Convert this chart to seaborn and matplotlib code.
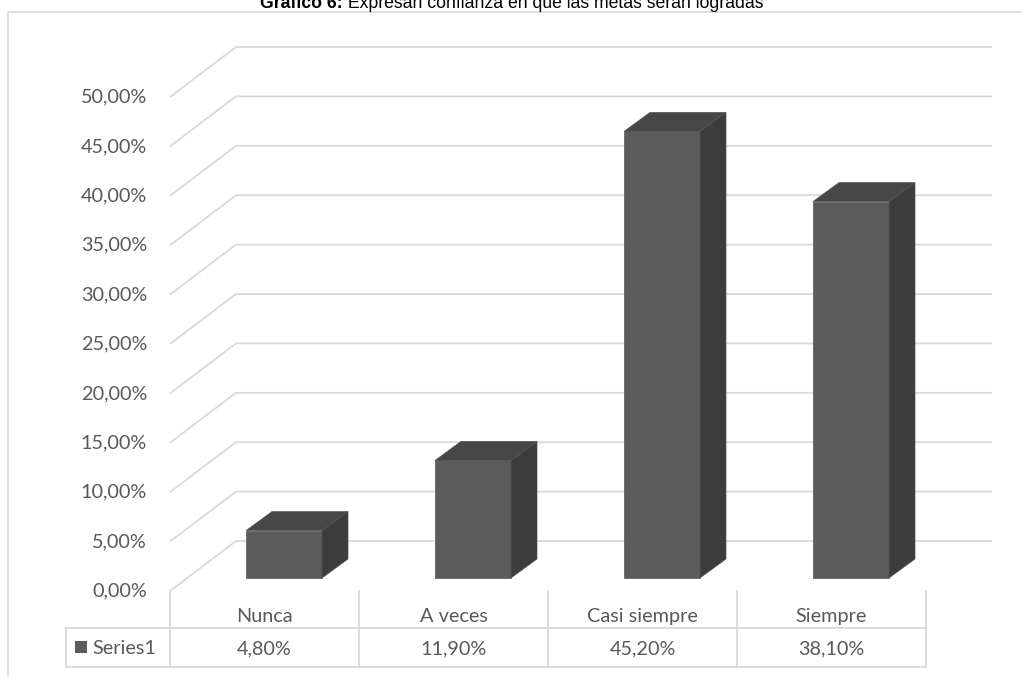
import matplotlib
matplotlib.use("Agg")
import matplotlib.pyplot as plt
import seaborn as sns
import pandas as pd
from matplotlib.patches import Polygon, Rectangle
from matplotlib.lines import Line2D

# ---------------- data ----------------
categories = ["Nunca", "A veces", "Casi siempre", "Siempre"]
values = [4.8, 11.9, 45.2, 38.1]
value_labels = ["4,80%", "11,90%", "45,20%", "38,10%"]
series_name = "Series1"
yticks = [0, 5, 10, 15, 20, 25, 30, 35, 40, 45, 50]
ytick_labels = ["0,00%", "5,00%", "10,00%", "15,00%", "20,00%", "25,00%",
                "30,00%", "35,00%", "40,00%", "45,00%", "50,00%"]
title_bold = "Gráfico 6:"
title_rest = " Expresan confianza en que las metas serán logradas"

# ---------------- style ----------------
W, H, DPI = 1022, 677, 100
sns.set_theme(style="white")
plt.rcParams['font.family'] = ['Lato', 'DejaVu Sans']
TXT = '#595959'
GRID = '#d9d9d9'
FRONT, TOP, SIDE = '#5b5b5b', '#474747', '#3c3c3c'
FS = 14.3

fig = plt.figure(figsize=(W / DPI, H / DPI), dpi=DPI)

# layout (pixels): category band width, floor line, px per percent
X0_PX, CAT_PX, Y0_PX, PCT_PX = 170, 189, 591, 9.88
xlim = (-0.5 - X0_PX / CAT_PX, -0.5 + (W - X0_PX) / CAT_PX)
ylim = ((Y0_PX - H) / PCT_PX, Y0_PX / PCT_PX)
DX, DY = 66 / CAT_PX, 50 / PCT_PX          # wall depth
BDX, BDY = 26 / CAT_PX, 19 / PCT_PX        # bar depth
n = len(categories)

# background axes: walls, gridlines, table
ax = fig.add_axes([0, 0, 1, 1])
ax.set_xlim(xlim)
ax.set_ylim(ylim)
ax.axis('off')

for v, lab in zip(yticks, ytick_labels):
    ax.plot([-0.5, -0.5 + DX, n - 0.5 + DX], [v, v + DY, v + DY],
            color=GRID, lw=1.3, solid_capstyle='butt', zorder=1)
    ax.text(-0.5 - 23 / CAT_PX, v, lab, ha='right', va='center',
            color=TXT, fontsize=FS)

# data table
y_sep = (Y0_PX - 628) / PCT_PX
y_bot = (Y0_PX - 667) / PCT_PX
x_tab = -0.5 - (X0_PX - 66) / CAT_PX
for k in range(n + 1):
    ax.plot([k - 0.5, k - 0.5], [0, y_bot], color=GRID, lw=1.3, zorder=1)
ax.plot([x_tab, x_tab], [y_sep, y_bot], color=GRID, lw=1.3, zorder=1)
for yy in (y_sep, y_bot):
    ax.plot([x_tab, n - 0.5], [yy, yy], color=GRID, lw=1.3, zorder=1)
for i, (c, vl) in enumerate(zip(categories, value_labels)):
    ax.text(i, (Y0_PX - 616.5) / PCT_PX, c, ha='center', va='center',
            color=TXT, fontsize=FS)
    ax.text(i, (Y0_PX - 648.5) / PCT_PX, vl, ha='center', va='center',
            color=TXT, fontsize=FS)
ax.add_patch(Rectangle((-0.5 - 95 / CAT_PX, (Y0_PX - 653) / PCT_PX),
                       12 / CAT_PX, 12 / PCT_PX, color=FRONT, lw=0))
ax.text(-0.5 - 78 / CAT_PX, (Y0_PX - 648.5) / PCT_PX, series_name,
        ha='left', va='center', color=TXT, fontsize=FS)

# bars axes (front plane shifted into depth)
ax2 = fig.add_axes([19.5 / W, 13 / H, 1, 1])
df = pd.DataFrame({"cat": categories, "val": values})
sns.barplot(data=df, x="cat", y="val", order=categories, ax=ax2,
            color=FRONT, saturation=1, width=76 / CAT_PX,
            edgecolor='#666666', linewidth=0.6)
ax2.set_xlim(xlim)
ax2.set_ylim(ylim)
ax2.axis('off')
ax2.patch.set_alpha(0)

for p in list(ax2.patches):
    x0 = p.get_x()
    x1 = x0 + p.get_width()
    y0 = p.get_y()
    v = y0 + p.get_height()
    ax2.add_patch(Polygon([(x0, v), (x1, v), (x1 + BDX, v + BDY), (x0 + BDX, v + BDY)],
                          closed=True, facecolor=TOP, edgecolor='#555555', lw=0.5))
    ax2.add_patch(Polygon([(x1, y0), (x1, v), (x1 + BDX, v + BDY), (x1 + BDX, y0 + BDY)],
                          closed=True, facecolor=SIDE, edgecolor='#555555', lw=0.5))

# chart frame (cropped at right/bottom)
fig.add_artist(Line2D([8 / W, 8 / W, 1], [0, 1 - 12 / H, 1 - 12 / H],
                      color=GRID, lw=1.2, transform=fig.transFigure))

# title (cropped at top, as in the source image)
r = fig.canvas.get_renderer()
tfam = ['Liberation Sans', 'DejaVu Sans']
ty = 1 - 7.5 / H
t1 = fig.text(0, ty, title_bold, fontweight='bold', family=tfam, fontsize=12.7,
              va='baseline', ha='left', color='black')
t2 = fig.text(0, ty, title_rest, family=tfam, fontsize=12.7,
              va='baseline', ha='left', color='black')
w1 = t1.get_window_extent(r).width
w2 = t2.get_window_extent(r).width
xs = 511.5 - (w1 + w2) / 2
t1.set_x(xs / W)
t2.set_x((xs + w1) / W)

fig.savefig("out.png", dpi=DPI)
